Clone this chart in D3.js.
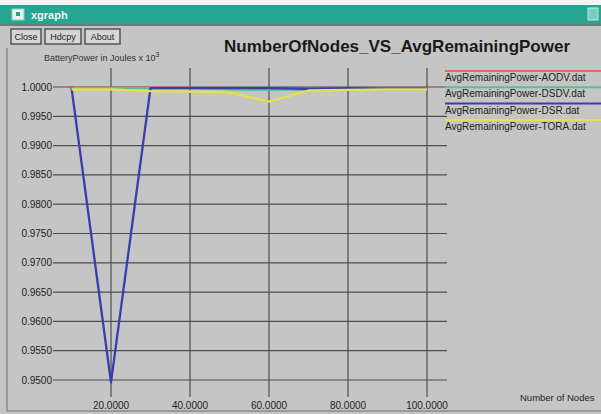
<!DOCTYPE html>
<html>
<head>
<meta charset="utf-8">
<script src="https://cdn.jsdelivr.net/npm/d3@7"></script>
<style>
  html, body { margin: 0; padding: 0; background: #ffffff; }
  svg { display: block; font-family: "Liberation Sans", Arial, sans-serif; }
</style>
</head>
<body>
<div id="chart"></div>
<script>
(function () {
  'use strict';

  // number of nodes
  var nodes = [10, 20, 30, 40, 50, 60, 70, 80, 90, 100];
  // average remaining power (x 10^3 J)
  var aodv = [0.9999, 0.9999, 0.9999, 0.9999, 0.9998, 0.9998, 0.9995, 0.9998, 0.9998, 0.9998];
  var dsdv = [0.9998, 0.9998, 0.9998, 0.9998, 0.9996, 0.9995, 0.9996, 0.9997, 0.9997, 0.9997];
  var dsr  = [0.9999, 0.9496, 0.9998, 0.9998, 0.9998, 0.9998, 0.9997, 0.9998, 0.9997, 0.9997];
  var tora = [0.9996, 0.9996, 0.9993, 0.9992, 0.9991, 0.9975, 0.9994, 0.9995, 0.9996, 0.9996];

  var xTicks = [20, 40, 60, 80, 100];
  var yTicks = [0.95, 0.955, 0.96, 0.965, 0.97, 0.975, 0.98, 0.985, 0.99, 0.995, 1.0];

  var seriesNames = ["AvgRemainingPower-AODV.dat", "AvgRemainingPower-DSDV.dat",
                     "AvgRemainingPower-DSR.dat", "AvgRemainingPower-TORA.dat"];
  var seriesVals = [aodv, dsdv, dsr, tora];
  var colors = ["#e06a6a", "#4cc88c", "#3c3cb0", "#e6e24a"];

  var W = 601, H = 414;
  var svg = d3.select("#chart").append("svg").attr("width", W).attr("height", H);

  // window frame
  svg.append("rect").attr("x", 0).attr("y", 0).attr("width", W).attr("height", H).attr("fill", "#c5c5c5");
  svg.append("rect").attr("x", 0).attr("y", 0).attr("width", W).attr("height", 5).attr("fill", "#f4f4f4");
  svg.append("rect").attr("x", 0).attr("y", 5).attr("width", W).attr("height", 19).attr("fill", "#26a592");
  svg.append("rect").attr("x", 0).attr("y", 24).attr("width", W).attr("height", 2).attr("fill", "#6e7c78");
  svg.append("rect").attr("x", 12).attr("y", 9).attr("width", 12).attr("height", 11).attr("fill", "#e8f4f0").attr("stroke", "#8fcfc2");
  svg.append("rect").attr("x", 16).attr("y", 12).attr("width", 4).attr("height", 4).attr("fill", "#26a592");
  svg.append("text").attr("x", 31).attr("y", 19).attr("fill", "#eaf7f3").attr("font-size", 11).attr("font-weight", "bold").text("xgraph");
  svg.append("rect").attr("x", 588).attr("y", 8).attr("width", 10).attr("height", 12).attr("fill", "#7fcbbd").attr("stroke", "#c6e8e0");
  svg.append("line").attr("x1", 7).attr("x2", 7).attr("y1", 48).attr("y2", 411).attr("stroke", "#8a8a8a").attr("stroke-width", 1.5);
  svg.append("line").attr("x1", 7).attr("x2", W).attr("y1", 411).attr("y2", 411).attr("stroke", "#8a8a8a").attr("stroke-width", 1.5);

  // buttons
  var buttons = [["Close", 11, 30], ["Hdcpy", 45, 36], ["About", 85, 35]];
  buttons.forEach(function (b) {
    svg.append("rect").attr("x", b[1]).attr("y", 29).attr("width", b[2]).attr("height", 15)
      .attr("fill", "#d6d6d6").attr("stroke", "#555").attr("stroke-width", 1.5);
    svg.append("text").attr("x", b[1] + b[2] / 2).attr("y", 40).attr("text-anchor", "middle")
      .attr("font-size", 9).attr("fill", "#222").text(b[0]);
  });

  // title
  svg.append("text").attr("x", 397).attr("y", 52).attr("text-anchor", "middle")
    .attr("font-size", 17).attr("font-weight", "bold").attr("fill", "#1a1a1a")
    .text("NumberOfNodes_VS_AvgRemainingPower");

  var yl = svg.append("text").attr("x", 44).attr("y", 61).attr("font-size", 9).attr("fill", "#333");
  yl.append("tspan").text("BatteryPower in Joules x 10");
  yl.append("tspan").attr("dy", -4).attr("font-size", 7).text("3");

  var x = d3.scaleLinear().domain([10, 100]).range([71.5, 427]);
  var y = d3.scaleLinear().domain([0.95, 1.0]).range([380, 87]);

  // grid
  var grid = svg.append("g").attr("stroke", "#4e4e4e").attr("stroke-width", 1.2);
  grid.selectAll(".hg").data(yTicks).enter().append("line")
    .attr("x1", 53).attr("x2", 447)
    .attr("y1", function (d) { return y(d); }).attr("y2", function (d) { return y(d); });
  grid.selectAll(".vg").data(xTicks).enter().append("line")
    .attr("y1", 68).attr("y2", 397)
    .attr("x1", function (d) { return x(d); }).attr("x2", function (d) { return x(d); });

  svg.selectAll(".yl").data(yTicks).enter().append("text")
    .attr("x", 52).attr("y", function (d) { return y(d) + 3.5; })
    .attr("text-anchor", "end").attr("font-size", 10).attr("fill", "#222")
    .text(function (d) { return d3.format(".4f")(d); });
  svg.selectAll(".xl").data(xTicks).enter().append("text")
    .attr("x", function (d) { return x(d); }).attr("y", 409)
    .attr("text-anchor", "middle").attr("font-size", 10).attr("fill", "#222")
    .text(function (d) { return d3.format(".4f")(d); });
  svg.append("text").attr("x", 520).attr("y", 401).attr("font-size", 9.5).attr("fill", "#222").text("Number of Nodes");

  // series
  var line = d3.line().x(function (d, i) { return x(nodes[i]); }).y(function (d) { return y(d); });
  seriesVals.forEach(function (vals, k) {
    svg.append("path").datum(vals).attr("d", line).attr("fill", "none")
      .attr("stroke", colors[k]).attr("stroke-width", 2.3).attr("stroke-linejoin", "round");
  });

  // legend
  seriesNames.forEach(function (name, k) {
    var ly = 71 + k * 16.3;
    svg.append("line").attr("x1", 445).attr("x2", W).attr("y1", ly).attr("y2", ly)
      .attr("stroke", colors[k]).attr("stroke-width", 2);
    svg.append("text").attr("x", 445).attr("y", ly + 10).attr("font-size", 10).attr("fill", "#222").text(name);
  });
})();
</script>
</body>
</html>
